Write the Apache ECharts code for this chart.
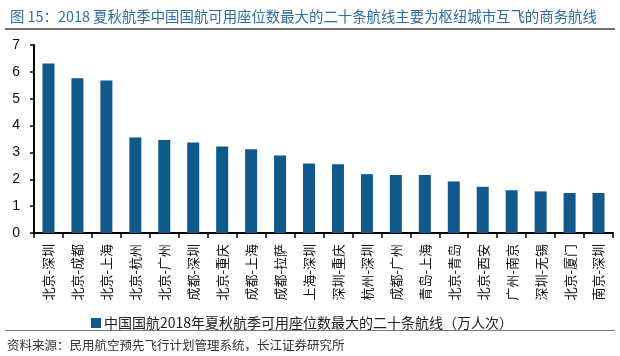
<!DOCTYPE html>
<html><head><meta charset="utf-8">
<script src="https://cdn.jsdelivr.net/npm/echarts@6/dist/echarts.min.js"></script>
<style>html,body{margin:0;padding:0;background:#fff}#c{width:620px;height:356px}</style>
</head><body><div id="c"></div>
<script>
const categories = ["北京-深圳","北京-成都","北京-上海","北京-杭州","北京-广州","成都-深圳","北京-重庆","成都-上海","成都-拉萨","上海-深圳","深圳-重庆","杭州-深圳","成都-广州","青岛-上海","北京-青岛","北京-西安","广州-南京","深圳-无锡","北京-厦门","南京-深圳"];
const values = [6.31,5.76,5.68,3.56,3.46,3.37,3.22,3.12,2.89,2.59,2.56,2.19,2.16,2.16,1.92,1.72,1.59,1.55,1.49,1.49];
const yTicks = [0,1,2,3,4,5,6,7];
const seriesName = "中国国航2018年夏秋航季可用座位数最大的二十条航线（万人次）";
const titleText = "图 15：2018 夏秋航季中国国航可用座位数最大的二十条航线主要为枢纽城市互飞的商务航线";
const sourceText = "资料来源：民用航空预先飞行计划管理系统，长江证券研究所";
const font = '"Noto Sans CJK SC", "Liberation Sans", sans-serif';
const numFont = '"Liberation Sans", Arial, sans-serif';
const chart = echarts.init(document.getElementById('c'));
chart.setOption({
  animation:false,
  title:{text:titleText,left:5,top:4,textStyle:{color:'#2f6ea5',fontSize:14.4,fontWeight:'normal',fontFamily:font}},
  graphic:[
    {type:'rect',shape:{x:5,y:28,width:610,height:2},style:{fill:'#707070'}},
    {type:'rect',shape:{x:5,y:330,width:610,height:1},style:{fill:'#777'}},
    {type:'text',left:7,top:339,style:{text:sourceText,fill:'#333',fontSize:12.5,fontFamily:font}}
  ],
  legend:{left:86,top:311,itemWidth:10,itemHeight:10,itemGap:6,icon:'rect',
    textStyle:{fontSize:14,color:'#222',fontFamily:font,padding:[0,0,0,-2]},data:[seriesName]},
  grid:{left:34,right:7,top:45,bottom:123},
  xAxis:{type:'category',data:categories,
    axisLine:{lineStyle:{color:'#000',width:2}},
    axisTick:{show:true,lineStyle:{color:'#000',width:1.5},length:5},
    axisLabel:{rotate:90,interval:0,fontSize:13,color:'#111',fontFamily:font,margin:11}},
  yAxis:{type:'value',min:0,max:7,interval:1,
    axisLine:{show:true,lineStyle:{color:'#000',width:2}},
    axisTick:{show:true,length:4,lineStyle:{color:'#000',width:1.5}},
    splitLine:{show:false},
    axisLabel:{fontSize:14,color:'#111',fontFamily:numFont,margin:14,
      formatter:v=>yTicks.includes(v)?String(v):''}},
  series:[{name:seriesName,type:'bar',data:values,barWidth:12,itemStyle:{color:'#0f5a8b'}}]
});
</script></body></html>
